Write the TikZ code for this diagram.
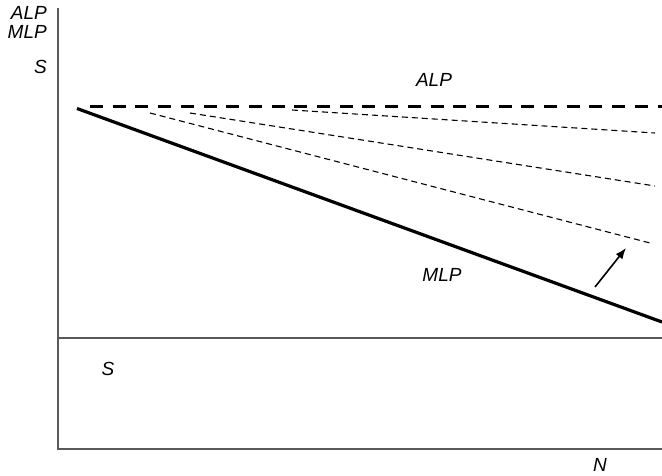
\documentclass[tikz,border=0pt]{standalone}
\usepackage{fontspec}
\setmainfont{Liberation Sans}
\usetikzlibrary{shapes,arrows.meta}

\begin{document}
\begin{tikzpicture}[x=1pt,y=-1pt,>={Latex[length=11pt,width=8.5pt]}]
				\tikzstyle{axis} = [line width=2pt, draw=black!65]
				\tikzstyle{lbl} = [inner sep=0pt, font=\fontsize{19}{21}\selectfont\itshape]
				\tikzstyle{avg} = [line width=3.4pt, dash pattern=on 13pt off 9.7pt]
				\tikzstyle{marg} = [line width=3.2pt]
				\tikzstyle{shifted} = [line width=1.1pt, dash pattern=on 6pt off 4pt]
				\useasboundingbox (0,0) rectangle (662,476);
				
				\coordinate (top) at (58,8);
				\coordinate (mid) at (58,338);
				\coordinate (midR) at (662,338);
				\coordinate (orig) at (58,449);
				\coordinate (endN) at (662,449);
				\draw[axis] (top) -- (orig) -- (endN);
				\draw[line width=1.8pt, draw=black!65] (mid) -- (midR);
				
				\node[lbl, anchor=east] (yALP) at (47,13) {ALP};
				\node[lbl, anchor=east] (yMLP) at (47,31.5) {MLP};
				\node[lbl, anchor=east] (yS) at (47,67) {S};
				\node[lbl] (ALP) at (434,80) {ALP};
				\node[lbl] (MLP) at (442,275) {MLP};
				\node[lbl] (S) at (108,369) {S};
				\node[lbl] (N) at (600,465) {N};
				
				\coordinate (alpL) at (90,106.5);
				\coordinate (alpR) at (662,106.5);
				\draw[avg] (alpL) -- (alpR);
				\coordinate (mlpL) at (77,108.5);
				\coordinate (mlpR) at (662,322);
				\draw[marg] (mlpL) -- (mlpR);
				
				\coordinate (s1L) at (292,110);
				\coordinate (s1R) at (655,133);
				\coordinate (s2L) at (190,113);
				\coordinate (s2R) at (655,186);
				\coordinate (s3L) at (150,113);
				\coordinate (s3R) at (650,243);
				\draw[shifted] (s1L) -- (s1R);
				\draw[shifted] (s2L) -- (s2R);
				\draw[shifted] (s3L) -- (s3R);
				
				\coordinate (arrT) at (595,287);
				\coordinate (arrH) at (626,248);
				\draw[->, line width=1.6pt] (arrT) -- (arrH);
\end{tikzpicture}
\end{document}
